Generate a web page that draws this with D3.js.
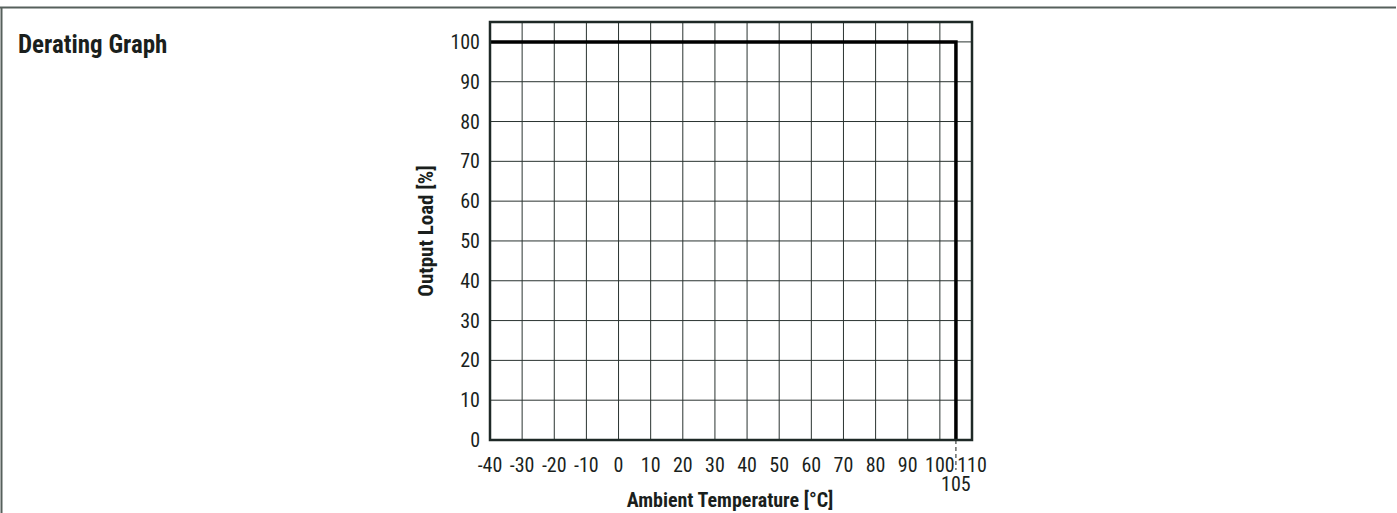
<!DOCTYPE html>
<html>
<head>
<meta charset="utf-8">
<title>Derating Graph</title>
<script src="https://cdn.jsdelivr.net/npm/d3@7/dist/d3.min.js"></script>
<style>
  body { margin: 0; background: #fff; }
  text { font-family: "Liberation Sans Narrow", "Roboto Condensed", "Liberation Sans", sans-serif; fill: #1a1f1d; }
</style>
</head>
<body>
<div id="chart"></div>
<script>
var xTicks = [-40, -30, -20, -10, 0, 10, 20, 30, 40, 50, 60, 70, 80, 90, 100, 110]
var yTicks = [0, 10, 20, 30, 40, 50, 60, 70, 80, 90, 100]
var temp = [-40, 105, 105]
var load = [100, 100, 0]
var markTemp = 105

var W = 1397, H = 513
var pLeft = 490, pRight = 972, pTop = 22, pBottom = 440

var x = d3.scaleLinear().domain([-40, 110]).range([pLeft, pRight])
var y = d3.scaleLinear().domain([0, 105]).range([pBottom, pTop])

var svg = d3.select("#chart").append("svg").attr("width", W).attr("height", H)

// frame
svg.append("line").attr("x1", 0).attr("x2", 1396).attr("y1", 7.5).attr("y2", 7.5)
  .attr("stroke", "#56605c").attr("stroke-width", 2)
svg.append("line").attr("x1", 1.5).attr("x2", 1.5).attr("y1", 7).attr("y2", H)
  .attr("stroke", "#56605c").attr("stroke-width", 2)

svg.append("text").attr("x", 18).attr("y", 53).text("Derating Graph")
  .attr("font-size", 25).attr("font-weight", "bold")

// grid
svg.append("g").selectAll("line").data(xTicks.slice(1, -1)).enter().append("line")
  .attr("x1", d => x(d)).attr("x2", d => x(d)).attr("y1", pTop).attr("y2", pBottom)
  .attr("stroke", "#2a3330").attr("stroke-width", 1)
svg.append("g").selectAll("line").data(yTicks.slice(1)).enter().append("line")
  .attr("x1", pLeft).attr("x2", pRight).attr("y1", d => y(d)).attr("y2", d => y(d))
  .attr("stroke", "#2a3330").attr("stroke-width", 1)

// axes labels
svg.append("g").selectAll("text").data(yTicks).enter().append("text")
  .attr("x", pLeft - 10).attr("y", d => y(d) + 7).attr("text-anchor", "end")
  .attr("font-size", 20).text(d => d)
svg.append("g").selectAll("text").data(xTicks).enter().append("text")
  .attr("x", d => x(d)).attr("y", 472).attr("text-anchor", "middle")
  .attr("font-size", 20).text(d => d)

// 105 marker
svg.append("line").attr("x1", x(markTemp)).attr("x2", x(markTemp)).attr("y1", pBottom).attr("y2", 470)
  .attr("stroke", "#1a1f1d").attr("stroke-width", 1).attr("stroke-dasharray", "4,3")
svg.append("text").attr("x", x(markTemp)).attr("y", 491).attr("text-anchor", "middle")
  .attr("font-size", 20).text(markTemp)

// data line
var line = d3.line().x(d => x(d[0])).y(d => y(d[1]))
svg.append("path").datum(temp.map((t, i) => [t, load[i]])).attr("d", line)
  .attr("fill", "none").attr("stroke", "#000").attr("stroke-width", 3.5)

// plot border
svg.append("rect").attr("x", pLeft).attr("y", pTop).attr("width", pRight - pLeft).attr("height", pBottom - pTop)
  .attr("fill", "none").attr("stroke", "#1e2926").attr("stroke-width", 2.5)

svg.append("text").attr("x", 730).attr("y", 507).attr("text-anchor", "middle")
  .attr("font-size", 20).attr("font-weight", "bold").text("Ambient Temperature [°C]")
svg.append("text").attr("transform", "translate(433,231) rotate(-90)")
  .attr("text-anchor", "middle").attr("font-size", 21).attr("font-weight", "bold")
  .text("Output Load [%]")
</script>
</body>
</html>
